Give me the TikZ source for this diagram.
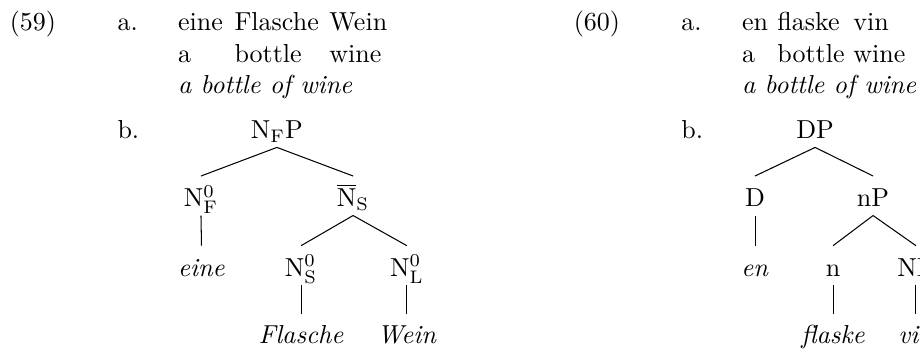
\documentclass[tikz,border=0pt]{standalone}
\begin{document}
\begin{tikzpicture}[x=1pt,y=-1pt,
  txt/.style={anchor=base west, inner sep=0pt},
  tn/.style={anchor=base, inner sep=0pt, text height=11.5pt, text depth=3.3pt},
  edge/.style={line width=0.4pt}]
\useasboundingbox (0,0) rectangle (353.85,133.85);
\clip (0,0) rectangle (353.85,133.85);

% ---------- example (59) ----------
\node[txt] (n59) at (3.6,11.9) {(59)};
\node[txt] (a59) at (45,11.9) {a.};
\node[txt] (w1) at (68.3,11.9) {eine};
\node[txt] (w2) at (90.0,11.9) {Flasche};
\node[txt] (w3) at (126.5,11.9) {Wein};
\node[txt] (g1) at (68.3,23.9) {a};
\node[txt] (g2) at (90.0,23.9) {bottle};
\node[txt] (g3) at (126.5,23.9) {wine};
\node[txt] (t59) at (68.3,35.9) {\textit{a bottle of wine}};
\node[txt] (b59) at (45,53.2) {b.};

% tree for (59b)
\node[tn] (nfp) at (106.5,53.2) {N$_{\mathrm{F}}$P};
\node[tn] (nf0) at (77.3,79.4) {$\mathrm{N}^0_{\mathrm{F}}$};
\node[tn] (nsb) at (135.8,79.4) {$\overline{\mathrm{N}}_{\mathrm{S}}$};
\node[tn] (eine) at (77.5,106.2) {\textit{eine}};
\node[tn] (ns0) at (115.8,106.2) {$\mathrm{N}^0_{\mathrm{S}}$};
\node[tn] (nl0) at (156.5,106.2) {$\mathrm{N}^0_{\mathrm{L}}$};
\node[tn] (flasche) at (115.8,132.3) {\textit{Flasche}};
\node[tn] (wein) at (156.5,132.3) {\textit{Wein}};
\draw[edge] (nfp.south) -- (nf0.north);
\draw[edge] (nfp.south) -- (nsb.north);
\draw[edge] (nf0.south) -- (eine.north);
\draw[edge] (nsb.south) -- (ns0.north);
\draw[edge] (nsb.south) -- (nl0.north);
\draw[edge] (ns0.south) -- (flasche.north);
\draw[edge] (nl0.south) -- (wein.north);

% ---------- example (60) ----------
\node[txt] (n60) at (220.5,11.9) {(60)};
\node[txt] (a60) at (261.9,11.9) {a.};
\node[txt] (v1) at (285.2,11.9) {en};
\node[txt] (v2) at (298.8,11.9) {flaske};
\node[txt] (v3) at (328.0,11.9) {vin};
\node[txt] (h1) at (285.2,23.9) {a};
\node[txt] (h2) at (298.8,23.9) {bottle};
\node[txt] (h3) at (328.0,23.9) {wine};
\node[txt] (t60) at (285.2,35.9) {\textit{a bottle of wine}};
\node[txt] (b60) at (261.9,53.2) {b.};

% tree for (60b)
\node[tn] (dp) at (313.5,53.2) {DP};
\node[tn] (d) at (290.4,79.4) {D};
\node[tn] (np1) at (335.8,79.4) {nP};
\node[tn] (en) at (290.4,106.2) {\textit{en}};
\node[tn] (n) at (320.4,106.2) {n};
\node[tn] (np2) at (352.3,106.2) {NP};
\node[tn] (flaske) at (320.4,132.3) {\textit{flaske}};
\node[tn] (vin) at (352.3,132.3) {\textit{vin}};
\draw[edge] (dp.south) -- (d.north);
\draw[edge] (dp.south) -- (np1.north);
\draw[edge] (d.south) -- (en.north);
\draw[edge] (np1.south) -- (n.north);
\draw[edge] (np1.south) -- (np2.north);
\draw[edge] (n.south) -- (flaske.north);
\draw[edge] (np2.south) -- (vin.north);
\end{tikzpicture}
\end{document}
